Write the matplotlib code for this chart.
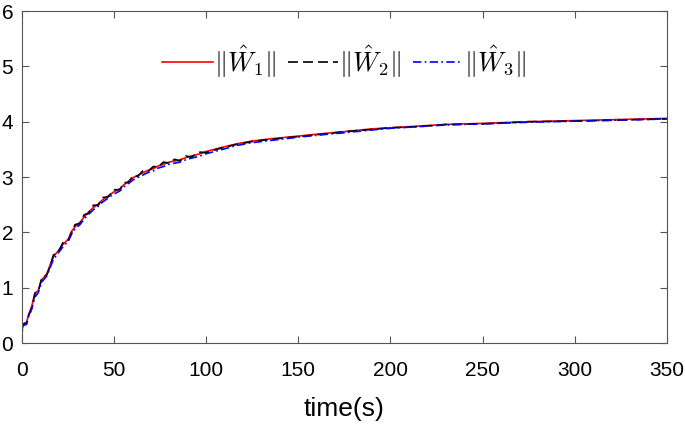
import numpy as np
import matplotlib.pyplot as plt

plt.rcParams['font.family'] = ['Liberation Sans', 'DejaVu Sans']
plt.rcParams['mathtext.fontset'] = 'cm'

# valores
t = [0, 0.6, 2.8, 3.7, 5.5, 7.3, 9.1, 10.9, 13.7, 15.5, 17.3, 20, 22.7, 25.4, 27, 29,
     31.7, 34, 36.2, 39, 41.6, 44, 47.1, 50, 53.4, 55.5, 57.9, 60.6, 63, 66, 68.5, 71.5,
     74, 77, 80, 83, 85.9, 89, 92, 96.8, 100, 108, 116.7, 125, 135, 150, 165, 175,
     190, 200, 215, 230, 250, 275, 300, 325, 350]
w1 = [0, 0.34, 0.38, 0.50, 0.66, 0.90, 0.95, 1.14, 1.25, 1.41, 1.56, 1.67, 1.79, 1.88, 2.01, 2.10,
      2.18, 2.28, 2.36, 2.45, 2.51, 2.59, 2.66, 2.73, 2.79, 2.86, 2.92, 2.99, 3.03, 3.08, 3.12, 3.15,
      3.20, 3.23, 3.27, 3.29, 3.31, 3.35, 3.38, 3.42, 3.46, 3.53, 3.60, 3.65, 3.69, 3.74, 3.79, 3.82,
      3.87, 3.89, 3.92, 3.95, 3.97, 4.00, 4.02, 4.04, 4.06]
w2 = [0, 0.33, 0.36, 0.48, 0.63, 0.90, 0.93, 1.17, 1.23, 1.38, 1.59, 1.65, 1.83, 1.86, 1.98, 2.14,
      2.16, 2.32, 2.34, 2.49, 2.49, 2.63, 2.64, 2.77, 2.77, 2.90, 2.90, 3.03, 3.01, 3.12, 3.10, 3.19,
      3.18, 3.27, 3.25, 3.32, 3.29, 3.38, 3.36, 3.45, 3.44, 3.52, 3.59, 3.64, 3.68, 3.73, 3.78, 3.82,
      3.86, 3.89, 3.91, 3.95, 3.96, 4.00, 4.01, 4.03, 4.05]
w3 = [0, 0.31, 0.34, 0.46, 0.61, 0.83, 0.91, 1.10, 1.21, 1.36, 1.51, 1.63, 1.75, 1.84, 1.96, 2.06,
      2.14, 2.24, 2.32, 2.41, 2.47, 2.55, 2.62, 2.69, 2.75, 2.82, 2.88, 2.95, 2.99, 3.04, 3.08, 3.11,
      3.16, 3.19, 3.23, 3.25, 3.27, 3.31, 3.34, 3.38, 3.42, 3.49, 3.57, 3.62, 3.66, 3.72, 3.77, 3.80,
      3.85, 3.88, 3.91, 3.94, 3.96, 3.99, 4.01, 4.03, 4.05]
labels = [r'$\|\hat{W}_1\|$', r'$\|\hat{W}_2\|$', r'$\|\hat{W}_3\|$']

fig = plt.figure(figsize=(6.85, 4.24), dpi=100)
ax = fig.add_axes([0.0314, 0.191, 0.9423, 0.783])

ax.plot(t, w1, color='red', linewidth=1.2, linestyle='-', label=labels[0])
ax.plot(t, w2, color='black', linewidth=1.2, linestyle=(0, (6, 3)), label=labels[1])
ax.plot(t, w3, color='blue', linewidth=1.2, linestyle=(0, (5, 2, 1, 2)), label=labels[2])

ax.set_xlim(0, 350)
ax.set_ylim(0, 6)
ax.set_xticks(np.arange(0, 351, 50))
ax.set_yticks(np.arange(0, 7, 1))
ax.tick_params(direction='in', top=True, right=True, labelsize=15, color='#555555', length=5)
ax.tick_params(axis='x', pad=13)
ax.tick_params(axis='y', pad=6)
for s in ax.spines.values():
    s.set_color('#555555')
ax.set_xlabel('time(s)', fontsize=19, labelpad=12)

ax.legend(loc='upper center', bbox_to_anchor=(0.5, 0.975), ncol=3, frameon=False,
          fontsize=19, handlelength=1.9, columnspacing=0.45, handletextpad=0.05)

plt.savefig('out.png')
